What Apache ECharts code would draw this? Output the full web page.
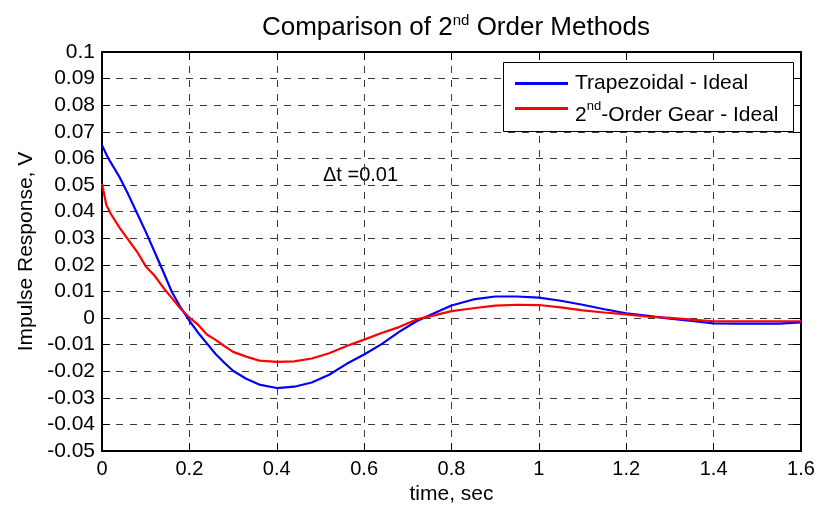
<!DOCTYPE html>
<html>
<head>
<meta charset="utf-8">
<script src="https://cdn.jsdelivr.net/npm/echarts@6/dist/echarts.min.js"></script>
<style>
  html, body { margin: 0; padding: 0; background: #fff; }
  #chart { width: 819px; height: 510px; }
</style>
</head>
<body>
<div id="chart"></div>
<script>
// time points (sec)
const time = [0, 0.01, 0.02, 0.04, 0.06, 0.08, 0.10, 0.12, 0.14, 0.16, 0.18, 0.20, 0.22, 0.24, 0.26, 0.28, 0.30, 0.33, 0.36, 0.40,
  0.44, 0.48, 0.52, 0.56, 0.60, 0.64, 0.68, 0.72, 0.76, 0.80, 0.85, 0.90, 0.95, 1.00, 1.05, 1.10, 1.15, 1.20, 1.25, 1.30,
  1.35, 1.40, 1.45, 1.50, 1.55, 1.60]
// Trapezoidal - Ideal
const trapezoidal = [0.065, 0.0615, 0.0585, 0.053, 0.0465, 0.0395, 0.0325, 0.025, 0.0175, 0.0098, 0.004, -0.001, -0.0055,
  -0.0095, -0.0135, -0.0168, -0.0198, -0.0228, -0.025, -0.0263, -0.0258, -0.0242, -0.0213, -0.0172, -0.0137, -0.0098,
  -0.0052, -0.0012, 0.0018, 0.0047, 0.007, 0.0081, 0.0081, 0.0077, 0.0065, 0.005, 0.0033, 0.0018, 0.0008, -0.0002,
  -0.0011, -0.002, -0.0021, -0.0021, -0.0021, -0.0016]
// 2nd-Order Gear - Ideal
const gear = [0.0505, 0.0425, 0.0392, 0.034, 0.0295, 0.025, 0.0195, 0.016, 0.0115, 0.0075, 0.0035, 0.0002, -0.0025,
  -0.0062, -0.0082, -0.0105, -0.0127, -0.0145, -0.016, -0.0165, -0.0163, -0.0152, -0.0132, -0.0105, -0.0081, -0.0056,
  -0.0034, -0.0005, 0.001, 0.0026, 0.0037, 0.0047, 0.005, 0.0049, 0.004, 0.0029, 0.0021, 0.0014, 0.0005, 0.0001,
  -0.0006, -0.0012, -0.0012, -0.0012, -0.0012, -0.0012]

const FONT = '"Liberation Sans", Arial, sans-serif'
const legendRich = {
  m: { fontFamily: FONT, fontSize: 21, color: '#000' },
  // second row text hangs a little below its line icon (superscript pushes it down)
  b: { fontFamily: FONT, fontSize: 21, color: '#000', padding: [14, 0, 0, 0] },
  s: { fontFamily: FONT, fontSize: 13, color: '#000', padding: [0, 0, 4, 0] }
}
const legendText = {
  'Trapezoidal - Ideal': '{m|Trapezoidal - Ideal}',
  '2nd-Order Gear - Ideal': '{b|2}{s|nd}{b|-Order Gear - Ideal}'
}

const pairs = (ys) => time.map((t, i) => [t, ys[i]])

const dashGrid = { show: true, lineStyle: { color: '#3a3a3a', width: 1, type: [7, 7] } }
const frameAxis = {
  axisLine: { show: true, onZero: false, lineStyle: { color: '#000', width: 2 } },
  axisTick: { show: true, inside: true, length: 8, lineStyle: { color: '#000', width: 1 } }
}

const option = {
  animation: false,
  backgroundColor: '#fff',
  title: {
    text: '{m|Comparison of 2}{s|nd}{m| Order Methods}',
    left: 451,
    top: 8,
    textAlign: 'center',
    textStyle: {
      rich: {
        m: { fontFamily: FONT, fontSize: 26, fontWeight: 'normal', color: '#000', lineHeight: 30 },
        s: { fontFamily: FONT, fontSize: 15, fontWeight: 'normal', color: '#000', lineHeight: 16, verticalAlign: 'top' }
      }
    }
  },
  grid: { left: 102, right: 18, top: 52, bottom: 56, containLabel: false },
  legend: {
    orient: 'vertical',
    left: 515,
    top: 73,
    padding: 0,
    itemGap: 6,
    itemWidth: 53,
    itemHeight: 3,
    icon: 'rect',
    z: 60,
    formatter: (name) => legendText[name],
    textStyle: { fontFamily: FONT, fontSize: 21, padding: [0, 0, 0, 2], rich: legendRich },
    data: ['Trapezoidal - Ideal', '2nd-Order Gear - Ideal']
  },
  xAxis: [
    {
      type: 'value', min: 0, max: 1.6, interval: 0.2,
      name: 'time, sec', nameLocation: 'middle', nameGap: 32,
      nameTextStyle: { fontFamily: FONT, fontSize: 21, color: '#000' },
      ...frameAxis,
      axisLabel: { margin: 8, fontFamily: FONT, fontSize: 20, color: '#000', formatter: v => String(+v.toFixed(1)) },
      splitLine: dashGrid
    },
    {
      type: 'value', min: 0, max: 1.6, interval: 0.2, position: 'top',
      ...frameAxis, axisLabel: { show: false }, splitLine: { show: false }
    }
  ],
  yAxis: [
    {
      type: 'value', min: -0.05, max: 0.1, interval: 0.01,
      name: 'Impulse Response, V', nameLocation: 'middle', nameGap: 63,
      nameTextStyle: { fontFamily: FONT, fontSize: 21, color: '#000' },
      ...frameAxis,
      axisLabel: { margin: 7, fontFamily: FONT, fontSize: 21, color: '#000', formatter: v => String(+v.toFixed(2)) },
      splitLine: dashGrid
    },
    {
      type: 'value', min: -0.05, max: 0.1, interval: 0.01, position: 'right',
      ...frameAxis, axisLabel: { show: false }, splitLine: { show: false }
    }
  ],
  graphic: [
    {
      // legend frame
      type: 'rect', left: 503, top: 62, z: 50,
      shape: { width: 290, height: 69 },
      style: { fill: '#fff', stroke: '#000', lineWidth: 1 }
    },
    {
      type: 'text', left: 323, top: 165,
      style: { text: '\u0394t =0.01', fontFamily: FONT, fontSize: 20, fill: '#000' }
    }
  ],
  series: [
    {
      name: 'Trapezoidal - Ideal', type: 'line', xAxisIndex: 0, yAxisIndex: 0,
      showSymbol: false, symbol: 'none', smooth: false,
      lineStyle: { color: '#0000ff', width: 2.2 }, itemStyle: { color: '#0000ff' },
      data: pairs(trapezoidal), z: 3
    },
    {
      name: '2nd-Order Gear - Ideal', type: 'line', xAxisIndex: 0, yAxisIndex: 0,
      showSymbol: false, symbol: 'none', smooth: false,
      lineStyle: { color: '#ff0000', width: 2.2 }, itemStyle: { color: '#ff0000' },
      data: pairs(gear), z: 4
    }
  ]
}

const chart = echarts.init(document.getElementById('chart'))
chart.setOption(option)
</script>
</body>
</html>
